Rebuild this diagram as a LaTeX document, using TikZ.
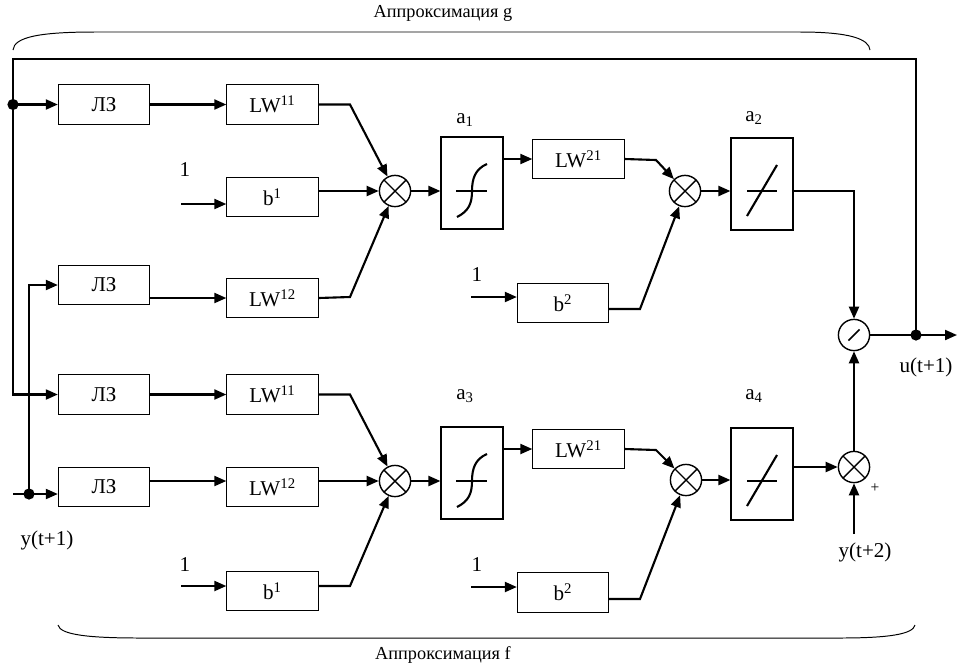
\documentclass[tikz,border=0pt]{standalone}
\usepackage{fontspec}
\setmainfont{Liberation Serif}
\usepackage{tikz}
\usetikzlibrary{arrows.meta}

\tikzset{
	box/.style={draw, line width=0.8pt, minimum width=2.28cm, minimum height=0.98cm, inner sep=0pt},
	tfbox/.style={draw, line width=0.8pt, minimum width=1.55cm, minimum height=2.3cm, inner sep=0pt},
	mult/.style={draw, circle, line width=1pt, minimum size=0.78cm, inner sep=0pt,
		path picture={\draw[line width=1pt]
			(path picture bounding box.center) +(45:0.4cm) -- +(225:0.4cm)
			(path picture bounding box.center) +(135:0.4cm) -- +(-45:0.4cm);}},
	divd/.style={draw, circle, line width=1pt, minimum size=0.78cm, inner sep=0pt,
		path picture={\draw[line width=1.1pt]
			([shift={(-0.14cm,-0.14cm)}]path picture bounding box.center) --
			([shift={(0.14cm,0.14cm)}]path picture bounding box.center);}},
	sig/.style={-{Triangle[length=0.3cm,width=0.25cm]}, line width=1.5pt},
	wire/.style={line width=1.5pt},
	brc/.style={line width=0.7pt},
	junc/.style={circle, fill, inner sep=0pt, minimum size=0.28cm},
}

\begin{document}
\begin{tikzpicture}[x=0.025cm, y=-0.025cm, font=\fontsize{15}{17}\selectfont]

	\useasboundingbox (0,0) rectangle (958,666);

	% ------------------------------------------------
	% Relevant coordinates
	\coordinate (TopL)  at (13,59);
	\coordinate (DotA)  at (13,104.5);
	\coordinate (YIn)   at (13,494);
	\coordinate (DotB)  at (29,494);
	\coordinate (FbDot) at (916,335);
	\coordinate (OutE)  at (957,335);

	\coordinate (InA) at (181,204);
	\coordinate (InB) at (181,586);
	\coordinate (InC) at (471,297);
	\coordinate (InD) at (471,587);
	\coordinate (YTwo) at (854,534);

	\coordinate (KnA) at (350,104.5);
	\coordinate (KnB) at (350,297);
	\coordinate (KnC) at (656,160);
	\coordinate (KnD) at (640,309);
	\coordinate (KnE) at (350,394.5);
	\coordinate (KnF) at (350,586);
	\coordinate (KnG) at (656,450);
	\coordinate (KnH) at (640,599);

	% ----------------
	% Blocks
	\node[box] (LZa) at (104,104.5) {ЛЗ};
	\node[box] (LZb) at (104,285)   {ЛЗ};
	\node[box] (LZc) at (104,394.5) {ЛЗ};
	\node[box] (LZd) at (104,487)   {ЛЗ};

	\node[box] (LWa) at (272.5,104.5) {LW\textsuperscript{11}};
	\node[box] (Ba)  at (272.5,197)   {b\textsuperscript{1}};
	\node[box] (LWb) at (272.5,298)   {LW\textsuperscript{12}};
	\node[box] (LWc) at (272.5,394.5) {LW\textsuperscript{11}};
	\node[box] (LWd) at (272.5,487)   {LW\textsuperscript{12}};
	\node[box] (Bb)  at (272.5,591)   {b\textsuperscript{1}};

	\node[mult] (SumA) at (395,191) {};
	\node[mult] (SumB) at (395,481) {};

	\node[tfbox] (A1) at (472,183) {};
	\node[tfbox] (A3) at (472,473) {};

	\node[box] (LWo) at (578.5,159) {LW\textsuperscript{21}};
	\node[box] (LWq) at (578.5,449) {LW\textsuperscript{21}};
	\node[box] (B2a) at (563,303)   {b\textsuperscript{2}};
	\node[box] (B2b) at (563,592.5) {b\textsuperscript{2}};

	\node[mult] (SumC) at (685,191) {};
	\node[mult] (SumD) at (686,480) {};

	\node[tfbox] (A2) at (762,184) {};
	\node[tfbox] (A4) at (762,474) {};

	\node[divd] (Div)  at (854,335) {};
	\node[mult] (SumE) at (854,467) {};

	% ----------------
	% Transfer functions
	\foreach \dy in {0,290} {
		\draw[line width=1pt] (456,191+\dy) -- (487,191+\dy);
		\draw[wire] (457,217+\dy) .. controls (469,211+\dy) and (472,203+\dy) .. (472,191+\dy)
			.. controls (472,179+\dy) and (475,169+\dy) .. (487,164+\dy);
		\draw[line width=1pt] (747,191+\dy) -- (777,191+\dy);
		\draw[wire] (747,216+\dy) -- (777,165+\dy);
	}

	% ----------------
	% Inputs and feedback
	\draw[sig] (DotA) -- (LZa.west);
	\draw[sig] (FbDot) |- (TopL) |- (LZc.west);
	\draw[sig] (YIn) -- (YIn -| LZd.west);
	\draw[sig] (DotB) |- (LZb.west);
	\node[junc] (JA) at (DotA) {};
	\node[junc] (JB) at (DotB) {};

	\draw[sig] (LZa.east) -- (LWa.west);
	\draw[sig] (LZb.east |- LWb) -- (LWb.west);
	\draw[sig] (LZc.east) -- (LWc.west);
	\draw[sig] (LZd.east |- SumB) -- (LWd.west |- SumB);

	% upper net
	\draw[sig] (LWa.east) -- (KnA) -- (SumA);
	\draw[sig] (InA) -- (InA -| Ba.west);
	\draw[sig] (Ba.east |- SumA) -- (SumA.west);
	\draw[sig] (LWb.east) -- (KnB) -- (SumA);
	\draw[sig] (SumA.east) -- (A1.west |- SumA);
	\draw[sig] (A1.east |- LWo) -- (LWo.west);
	\draw[sig] (LWo.east) -- (KnC) -- (SumC);
	\draw[sig] (InC) -- (InC -| B2a.west);
	\draw[sig] (B2a.east |- KnD) -- (KnD) -- (SumC);
	\draw[sig] (SumC.east) -- (A2.west |- SumC);
	\draw[sig] (A2.east |- SumC) -| (Div.north);

	% lower net
	\draw[sig] (LWc.east) -- (KnE) -- (SumB);
	\draw[sig] (LWd.east |- SumB) -- (SumB.west);
	\draw[sig] (InB) -- (InB -| Bb.west);
	\draw[sig] (Bb.east |- InB) -- (KnF) -- (SumB);
	\draw[sig] (SumB.east) -- (A3.west |- SumB);
	\draw[sig] (A3.east |- LWq) -- (LWq.west);
	\draw[sig] (LWq.east) -- (KnG) -- (SumD);
	\draw[sig] (InD) -- (InD -| B2b.west);
	\draw[sig] (B2b.east |- KnH) -- (KnH) -- (SumD);
	\draw[sig] (SumD.east) -- (A4.west |- SumD);
	\draw[sig] (A4.east |- SumE) -- (SumE.west);
	\draw[sig] (SumE.north) -- (Div.south);
	\draw[sig] (YTwo) -- (SumE.south);

	% output
	\draw[sig] (Div.east) -- (OutE);
	\node[junc] (JC) at (FbDot) {};

	% ----------------
	% Labels
	\node (OneA) at (185,170) {1};
	\node (OneB) at (185,565) {1};
	\node (OneC) at (477,275) {1};
	\node (OneD) at (477,565) {1};

	\node (LblA1) at (465,120) {a\textsubscript{1}};
	\node (LblA2) at (754,118) {a\textsubscript{2}};
	\node (LblA3) at (465,396) {a\textsubscript{3}};
	\node (LblA4) at (754,396) {a\textsubscript{4}};

	\node (LblU)  at (926,367) {u(t+1)};
	\node (LblY1) at (47,540)  {y(t+1)};
	\node (LblY2) at (865,552) {y(t+2)};
	\node[font=\fontsize{11}{13}\selectfont] (LblPlus) at (875,488) {+};

	% ----------------
	% Braces
	\draw[brc] (13,50) .. controls (14,37) and (40,32) .. (95,32) -- (800,32)
		.. controls (850,32) and (869,39) .. (870,50);
	\node[font=\fontsize{13}{15}\selectfont] (LblG) at (443,13) {Аппроксимация g};

	\draw[brc] (58,625) .. controls (60,635) and (90,638) .. (140,638) -- (840,638)
		.. controls (890,638) and (913,634) .. (915,625);
	\node[font=\fontsize{13}{15}\selectfont] (LblF) at (443,655) {Аппроксимация f};

\end{tikzpicture}
\end{document}
